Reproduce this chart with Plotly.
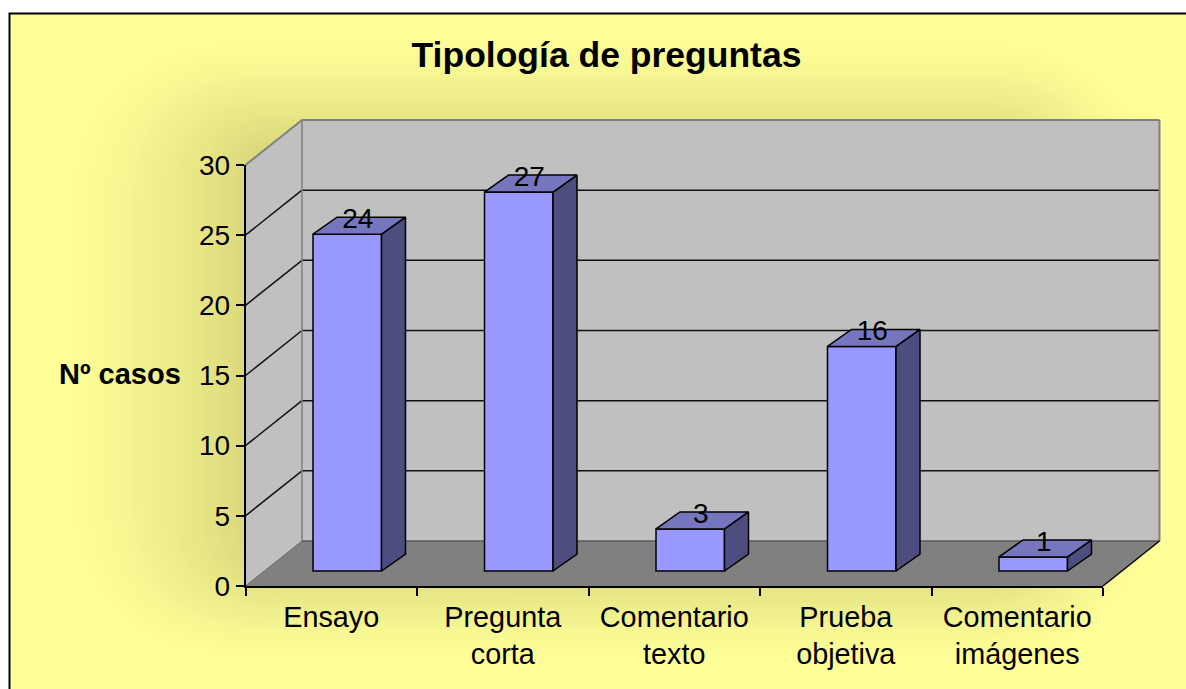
import plotly.graph_objects as go

# ---- data ----
categories = ["Ensayo", "Pregunta<br>corta", "Comentario<br>texto", "Prueba<br>objetiva", "Comentario<br>imágenes"]
values = [24, 27, 3, 16, 1]
y_ticks = [0, 5, 10, 15, 20, 25, 30]
title_text = "Tipología de preguntas"
y_title = "Nº casos"

# ---- layout geometry (pixels of the figure) ----
W, H = 1186, 689
PX0, PX1 = 245.5, 1103.0     # front plane, horizontal extent
PY0, PY30 = 586.0, 165.0     # front plane, value 0 and value 30
UX = (PX1 - PX0) / 5         # px per category
UY = (PY0 - PY30) / 30       # px per value unit
DEPTH_X, DEPTH_Y = 56.5 / UX, 45.0 / UY      # chart depth in data units
BAR_OFF_X, BAR_OFF_Y = 16.0 / UX, 15.0 / UY  # offset of a bar's front face
BAR_DX, BAR_DY = 24.0 / UX, 17.0 / UY        # bar depth
BAR_W = 68.5 / UX
FONT = "Liberation Sans, Arial, sans-serif"

C_WALL, C_FLOOR, C_GREY = "#C0C0C0", "#808080", "#808080"
C_FRONT, C_TOP, C_SIDE = "#9999FF", "#7676BF", "#4D4D80"


def lerp(a, b, t):
    return a + (b - a) * t


def px(x):
    return x / W


def py(y):
    return 1 - y / H


shapes = []
# chart area background
shapes.append(dict(type="rect", xref="paper", yref="paper", x0=px(9.5), x1=1.01, y0=-0.01, y1=py(13.5),
                   fillcolor="#FFFF99", line=dict(color="black", width=2), layer="below"))
# soft shadow behind the plot, one colour step per nested outline
LEVELS = 40
for i in range(1, LEVELS):
    t = i / LEVELS
    l, r = lerp(45, 262, t), lerp(1172, 1010, t)
    top, bot = lerp(28, 152, t), lerp(668, 560, t)
    rad = lerp(200, 30, t)
    rx, ry = min(rad, (r - l) / 2), min(rad, (bot - top) / 2)
    k = t ** 1.45
    g = 255 - round(41 * k)
    b = 153 - round(33 * k)
    col = f"rgb({g},{g - round(2 * k)},{b})"
    path = (f"M{px(l + rx)},{py(top)} L{px(r - rx)},{py(top)} Q{px(r)},{py(top)} {px(r)},{py(top + ry)} "
            f"L{px(r)},{py(bot - ry)} Q{px(r)},{py(bot)} {px(r - rx)},{py(bot)} "
            f"L{px(l + rx)},{py(bot)} Q{px(l)},{py(bot)} {px(l)},{py(bot - ry)} "
            f"L{px(l)},{py(top + ry)} Q{px(l)},{py(top)} {px(l + rx)},{py(top)} Z")
    shapes.append(dict(type="path", xref="paper", yref="paper", path=path, fillcolor=col,
                       line=dict(width=0), layer="below"))


def poly(pts, fill, line=None, width=0):
    path = "M" + " L".join(f"{x},{y}" for x, y in pts) + " Z"
    return dict(type="path", xref="x", yref="y", path=path, fillcolor=fill,
                line=dict(color=line, width=width) if line else dict(width=0), layer="below")


def seg(x0, y0, x1, y1, color, width):
    return dict(type="line", xref="x", yref="y", x0=x0, y0=y0, x1=x1, y1=y1,
                line=dict(color=color, width=width), layer="below")


N = len(categories)
TOP = y_ticks[-1]
# walls and floor
shapes.append(poly([(0, 0), (DEPTH_X, DEPTH_Y), (DEPTH_X, TOP + DEPTH_Y), (0, TOP)], C_WALL))
shapes.append(poly([(DEPTH_X, DEPTH_Y), (N + DEPTH_X, DEPTH_Y), (N + DEPTH_X, TOP + DEPTH_Y), (DEPTH_X, TOP + DEPTH_Y)], C_WALL))
shapes.append(poly([(0, 0), (N, 0), (N + DEPTH_X, DEPTH_Y), (DEPTH_X, DEPTH_Y)], C_FLOOR))
# gridlines
for v in y_ticks[1:-1]:
    shapes.append(seg(0, v, DEPTH_X, v + DEPTH_Y, "#111111", 1.5))
    shapes.append(seg(DEPTH_X, v + DEPTH_Y, N + DEPTH_X, v + DEPTH_Y, "#111111", 1.5))
# wall outlines
shapes.append(seg(0, TOP, DEPTH_X, TOP + DEPTH_Y, C_GREY, 2))
shapes.append(seg(DEPTH_X, TOP + DEPTH_Y, N + DEPTH_X, TOP + DEPTH_Y, C_GREY, 2))
shapes.append(seg(N + DEPTH_X, DEPTH_Y, N + DEPTH_X, TOP + DEPTH_Y, C_GREY, 2))
shapes.append(seg(DEPTH_X, DEPTH_Y, DEPTH_X, TOP + DEPTH_Y, C_GREY, 1.5))
shapes.append(seg(DEPTH_X, DEPTH_Y, N + DEPTH_X, DEPTH_Y, "#5A5A5A", 1.5))
shapes.append(seg(0, 0, DEPTH_X, DEPTH_Y, "#6A6A6A", 1))
shapes.append(seg(N, 0, N + DEPTH_X, DEPTH_Y, "black", 1.5))

fig = go.Figure()

centers = [i + 0.5 + BAR_OFF_X for i in range(N)]
# front faces of the bars
fig.add_trace(go.Bar(x=centers, y=values, base=[BAR_OFF_Y] * N, width=BAR_W, xaxis="x", yaxis="y",
                     marker=dict(color=C_FRONT, line=dict(color="black", width=1.5)),
                     hoverinfo="skip", showlegend=False))
# side and top faces of the bars
for c, v in zip(centers, values):
    xl, xr = c - BAR_W / 2, c + BAR_W / 2
    y0, y1 = BAR_OFF_Y, BAR_OFF_Y + v
    fig.add_trace(go.Scatter(x=[xr, xr + BAR_DX, xr + BAR_DX, xr, xr], y=[y0, y0 + BAR_DY, y1 + BAR_DY, y1, y0],
                             mode="lines", fill="toself", fillcolor=C_SIDE, line=dict(color="black", width=1.5),
                             xaxis="x", yaxis="y", hoverinfo="skip", showlegend=False))
    fig.add_trace(go.Scatter(x=[xl, xr, xr + BAR_DX, xl + BAR_DX, xl], y=[y1, y1, y1 + BAR_DY, y1 + BAR_DY, y1],
                             mode="lines", fill="toself", fillcolor=C_TOP, line=dict(color="black", width=1.5),
                             xaxis="x", yaxis="y", hoverinfo="skip", showlegend=False))
# value labels
fig.add_trace(go.Scatter(x=[c + 10.5 / UX for c in centers], y=[v + BAR_OFF_Y + 13.0 / UY for v in values],
                         text=[str(v) for v in values], mode="text", textposition="middle center",
                         textfont=dict(family=FONT, size=28, color="black"),
                         xaxis="x", yaxis="y", hoverinfo="skip", showlegend=False))
# carrier of the visible front-plane axes
fig.add_trace(go.Scatter(x=categories, y=values, mode="markers", marker=dict(opacity=0), xaxis="x2", yaxis="y2",
                         hoverinfo="skip", showlegend=False))

fig.update_layout(
    width=W, height=H, margin=dict(l=0, r=0, t=0, b=0, pad=0, autoexpand=False), autosize=False,
    paper_bgcolor="white", plot_bgcolor="rgba(0,0,0,0)",
    barmode="overlay", showlegend=False, shapes=shapes,
    title=dict(text=f"<b>{title_text}</b>", x=606.5 / W, xanchor="center", y=1 - 55 / H, yanchor="middle",
               font=dict(family=FONT, size=35.5, color="black")),
    xaxis=dict(domain=[0, 1], range=[-PX0 / UX, (W - PX0) / UX], visible=False, fixedrange=True),
    yaxis=dict(domain=[0, 1], range=[-(H - PY0) / UY, PY0 / UY], visible=False, fixedrange=True),
    xaxis2=dict(domain=[PX0 / W, PX1 / W], type="category", categoryorder="array", categoryarray=categories,
                range=[-0.5, N - 0.5], tickson="boundaries", ticks="outside", ticklen=8, tickwidth=1.5,
                tickcolor="black", showline=True, linecolor="black", linewidth=2, showgrid=False, zeroline=False,
                anchor="y2", tickangle=0, ticklabelstandoff=4,
                tickfont=dict(family=FONT, size=28.8, color="black"), fixedrange=True),
    yaxis2=dict(domain=[1 - PY0 / H, 1 - PY30 / H], range=[0, TOP], tickvals=y_ticks, ticks="outside", ticklen=8,
                tickwidth=1.5, tickcolor="black", showline=True, linecolor="black", linewidth=1.5,
                showgrid=False, zeroline=False, anchor="x2",
                tickfont=dict(family=FONT, size=28, color="black"), fixedrange=True),
    annotations=[dict(text=f"<b>{y_title}</b>", xref="paper", yref="paper", x=px(120), y=py(374),
                      xanchor="center", yanchor="middle", showarrow=False,
                      font=dict(family=FONT, size=29, color="black"))],
)

fig.write_html("out.html", config=dict(displayModeBar=False),
               post_script="document.body.style.margin='0';document.body.style.overflow='hidden';")
